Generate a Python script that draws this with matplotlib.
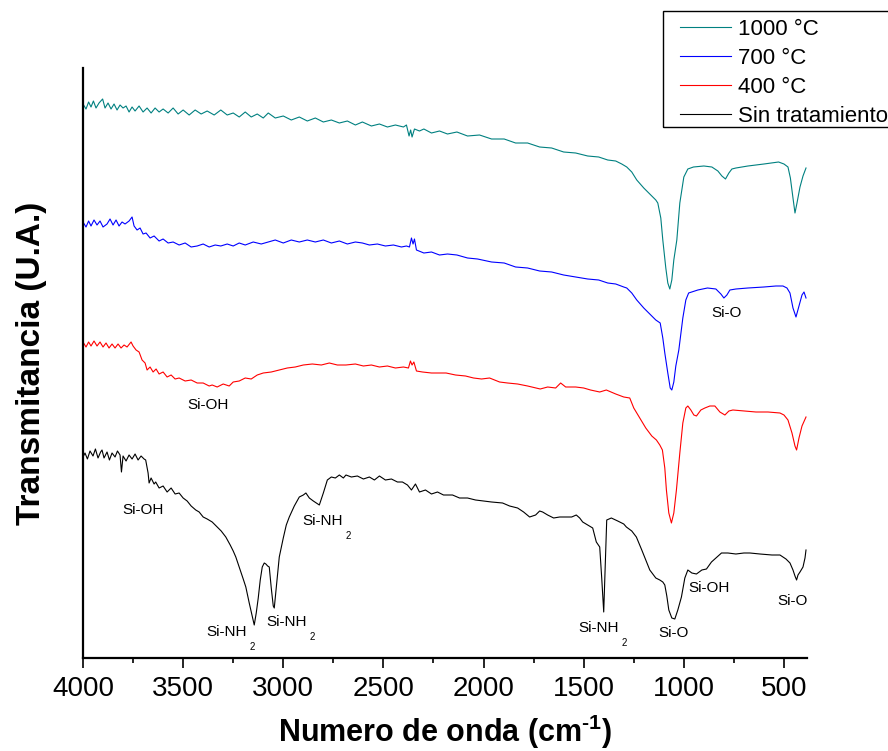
import matplotlib
matplotlib.use("Agg")
import matplotlib.pyplot as plt
from matplotlib.ticker import MultipleLocator
from matplotlib.patches import Rectangle

plt.rcParams['font.family'] = ['Liberation Sans', 'DejaVu Sans']
plt.rcParams['mathtext.fontset'] = 'custom'
plt.rcParams['mathtext.rm'] = 'Liberation Sans:bold'
plt.rcParams['mathtext.bf'] = 'Liberation Sans:bold'

# ---- data: (wavenumber cm-1, transmittance in arbitrary stacked units) ----
t1000 = [(3997,553),(3985,549),(3972,556),(3960,551),(3948,557),(3935,550),(3920,555),(3902,559),(3890,550),(3875,555),
         (3860,549),(3845,554),(3830,548),(3815,553),(3800,550),(3785,552),(3770,546),(3755,551),(3740,547),(3720,552),
         (3700,546),(3680,550),(3660,545),(3640,550),(3620,546),(3600,549),(3575,545),(3550,550),(3525,544),(3500,548),
         (3470,543),(3440,548),(3410,544),(3380,547),(3345,543),(3312,548),(3280,543),(3250,545),(3220,541),(3190,546),
         (3160,541),(3130,544),(3100,540),(3075,545),(3040,540),(3000,542),(2960,538),(2920,541),(2880,537),(2840,540),
         (2800,536),(2760,538),(2720,535),(2680,537),(2640,533),(2605,536),(2560,532),(2520,534),(2480,531),(2440,533),
         (2400,531),(2385,533),(2372,522),(2364,528),(2357,521),(2345,529),(2320,527),(2298,529),(2260,525),(2220,527),
         (2180,524),(2133,526),(2080,522),(2020,523),(1960,519),(1897,519),(1840,515),(1780,515),(1720,511),(1660,510),
         (1600,506),(1540,505),(1480,502),(1425,501),(1380,498),(1340,497),(1310,494),(1285,491),(1260,486),(1235,478),
         (1200,470),(1165,463),(1140,458),(1130,455),(1115,440),(1105,418),(1090,390),(1080,375),(1070,369),(1060,378),
         (1050,398),(1035,418),(1020,455),(1000,481),(980,489),(952,491),(900,492),(860,491),(830,487),(810,482),
         (792,479),(775,485),(760,489),(740,490),(680,492),(600,494),(527,496),(500,494),(480,491),(468,480),
         (455,460),(445,445),(435,455),(420,471),(405,482),(390,490)]

t700 = [(3997,435),(3985,431),(3972,437),(3960,432),(3945,438),(3930,433),(3915,437),(3900,431),(3880,434),(3865,439),
        (3850,433),(3835,438),(3820,432),(3805,436),(3790,434),(3770,437),(3755,441),(3745,432),(3730,428),(3715,430),
        (3700,424),(3685,425),(3665,420),(3645,422),(3620,417),(3600,419),(3575,415),(3550,416),(3520,413),(3490,415),
        (3460,411),(3430,412),(3400,414),(3370,411),(3340,413),(3312,412),(3280,414),(3250,412),(3220,415),(3190,413),
        (3150,416),(3110,414),(3075,416),(3040,418),(3000,415),(2960,418),(2920,416),(2880,418),(2840,416),(2800,418),
        (2760,415),(2720,417),(2680,414),(2640,416),(2605,415),(2570,413),(2530,414),(2490,412),(2450,413),(2410,411),
        (2385,412),(2370,411),(2360,420),(2352,414),(2345,419),(2335,408),(2298,405),(2260,406),(2220,403),(2180,404),
        (2133,403),(2080,400),(2030,399),(1960,396),(1897,395),(1840,391),(1780,390),(1720,387),(1660,386),(1600,383),
        (1540,381),(1480,379),(1425,378),(1380,375),(1340,374),(1300,371),(1285,370),(1260,365),(1235,358),(1200,350),
        (1165,343),(1140,338),(1118,335),(1105,320),(1095,305),(1080,285),(1068,270),(1060,268),(1050,276),(1040,292),
        (1025,308),(1005,340),(990,358),(976,365),(930,368),(882,370),(840,369),(815,364),(800,360),(785,363),
        (770,368),(740,369),(680,370),(600,371),(540,372),(505,372),(485,370),(470,365),(455,350),(440,341),
        (425,352),(410,363),(400,366),(390,360)]

t400 = [(3997,315),(3985,311),(3972,316),(3960,312),(3945,317),(3930,312),(3915,316),(3900,311),(3885,315),(3870,310),
        (3855,314),(3840,310),(3825,314),(3810,310),(3795,313),(3780,311),(3760,316),(3750,312),(3735,308),(3720,306),
        (3705,298),(3690,295),(3680,288),(3665,291),(3650,286),(3635,289),(3620,284),(3600,286),(3580,281),(3560,283),
        (3540,279),(3520,280),(3490,277),(3460,278),(3430,275),(3400,275),(3370,272),(3355,273),(3330,271),(3300,274),
        (3270,272),(3250,276),(3220,277),(3190,280),(3160,279),(3130,283),(3100,285),(3060,286),(3020,288),(2980,290),
        (2940,291),(2900,293),(2855,294),(2810,293),(2770,295),(2730,293),(2687,293),(2640,294),(2600,292),(2560,293),
        (2520,291),(2480,292),(2440,290),(2400,291),(2375,290),(2365,297),(2357,293),(2348,296),(2335,287),(2305,286),
        (2260,285),(2220,285),(2187,285),(2140,283),(2090,282),(2050,280),(2010,279),(1970,280),(1920,276),(1880,275),
        (1830,274),(1780,272),(1717,269),(1680,271),(1640,270),(1615,275),(1590,271),(1540,271),(1500,270),(1466,268),
        (1420,266),(1387,268),(1340,264),(1300,261),(1270,260),(1250,250),(1220,240),(1190,230),(1160,222),(1137,218),
        (1120,213),(1107,208),(1095,190),(1087,168),(1075,145),(1062,135),(1050,145),(1037,168),(1020,205),(1005,235),
        (990,250),(980,252),(965,248),(950,243),(937,242),(915,248),(895,250),(870,252),(845,252),(820,246),
        (795,243),(775,247),(755,248),(700,247),(640,246),(580,246),(520,245),(500,243),(480,238),(460,225),
        (445,212),(437,208),(425,220),(410,232),(390,241)]

t_sin = [(4000,201),(3990,205),(3978,199),(3965,207),(3950,202),(3938,209),(3925,200),(3912,206),(3905,208),(3895,200),
         (3880,206),(3868,198),(3855,205),(3840,201),(3828,207),(3815,203),(3808,186),(3800,202),(3785,197),(3770,203),
         (3755,199),(3740,204),(3725,198),(3710,202),(3695,199),(3687,198),(3675,185),(3670,175),(3660,180),(3645,174),
         (3637,176),(3620,170),(3600,172),(3580,166),(3560,170),(3540,164),(3520,165),(3500,160),(3480,157),(3460,152),
         (3437,148),(3420,146),(3400,141),(3380,139),(3355,136),(3330,131),(3310,127),(3287,121),(3265,113),(3250,107),
         (3237,101),(3215,88),(3200,79),(3187,71),(3170,55),(3155,42),(3145,33),(3135,45),(3125,60),(3115,78),
         (3105,91),(3095,95),(3087,94),(3078,92),(3070,91),(3060,70),(3050,52),(3045,50),(3035,70),(3025,90),
         (3020,101),(3000,120),(2985,133),(2970,141),(2945,152),(2920,161),(2900,163),(2887,165),(2870,160),(2850,157),
         (2835,155),(2820,153),(2800,165),(2780,178),(2760,181),(2740,180),(2720,183),(2700,180),(2687,183),(2660,181),
         (2630,182),(2600,179),(2570,181),(2545,178),(2520,182),(2490,178),(2460,179),(2430,176),(2405,176),(2380,173),
         (2360,168),(2340,174),(2320,166),(2290,168),(2260,164),(2230,166),(2200,163),(2155,163),(2120,160),(2080,160),
         (2040,158),(2000,157),(1960,156),(1905,155),(1870,152),(1830,150),(1800,146),(1770,141),(1740,143),(1720,147),
         (1705,146),(1680,143),(1650,140),(1620,141),(1590,141),(1560,141),(1537,143),(1520,140),(1505,136),(1480,133),
         (1455,130),(1437,116),(1420,111),(1410,80),(1400,46),(1393,90),(1385,138),(1362,140),(1330,137),(1300,134),
         (1287,131),(1260,127),(1237,121),(1210,108),(1190,98),(1170,88),(1140,80),(1120,78),(1105,76),(1095,73),
         (1085,62),(1075,48),(1060,40),(1045,39),(1030,48),(1012,61),(995,80),(980,88),(960,85),(937,84),
         (910,88),(887,89),(862,96),(840,100),(812,105),(780,105),(740,104),(700,105),(670,105),(620,104),
         (560,103),(520,103),(490,99),(470,95),(455,88),(445,82),(437,78),(430,83),(420,86),(405,91),
         (395,100),(390,108)]

series_labels = ["Sin tratamiento", "400 °C", "700 °C", "1000 °C"]
series_colors = ["#000000", "#FF0000", "#0000FF", "#008080"]

# annotations: (wavenumber, y, text, subscript)
annotations = [(3700, 148, "Si-OH", None),
               (3285, 26, "Si-NH", "2"),
               (2985, 36, "Si-NH", "2"),
               (2805, 137, "Si-NH", "2"),
               (1425, 30, "Si-NH", "2"),
               (1050, 25, "Si-O", None),
               (875, 70, "Si-OH", None),
               (455, 57, "Si-O", None),
               (3375, 253, "Si-OH", None),
               (785, 345, "Si-O", None)]

W, H = 888, 751
fig = plt.figure(figsize=(W/100, H/100), dpi=100)
ax = fig.add_axes([83/W, 1-658/H, (807-83)/W, (658-68)/H])

handles = []
for data, lab, col in zip([t_sin, t400, t700, t1000], series_labels, series_colors):
    xs = [p[0] for p in data]
    ys = [p[1] for p in data]
    h, = ax.plot(xs, ys, color=col, lw=0.8, label=lab)
    handles.append(h)

ax.set_xlim(4000, 385)
ax.set_ylim(0, 590)
ax.set_yticks([])
ax.xaxis.set_major_locator(MultipleLocator(500))
ax.xaxis.set_minor_locator(MultipleLocator(250))
ax.tick_params(axis='x', which='major', direction='out', length=7, width=1.2, labelsize=20, pad=6)
ax.tick_params(axis='x', which='minor', direction='out', length=3.5, width=1.2)
for s in ['top', 'right']:
    ax.spines[s].set_visible(False)
for s in ['left', 'bottom']:
    ax.spines[s].set_linewidth(1.6)

ax.set_xlabel(r"Numero de onda (cm$^{\text{-1}}$)", fontsize=22, fontweight='bold', labelpad=8)
ax.set_ylabel("Transmitancia (U.A.)", fontsize=24, fontweight='bold', labelpad=26)

for wn, yv, txt, sub in annotations:
    t = ax.text(wn, yv, txt, fontsize=11, ha='center', va='center')
    if sub:
        ax.annotate(sub, xy=(1, 0), xycoords=t, xytext=(2, -2), textcoords='offset points',
                    fontsize=7, ha='left', va='top')

# legend box (extends past the right edge of the figure, as in the reference)
fig.add_artist(Rectangle((663/W, 1-127/H), (892-663)/W, 116/H, transform=fig.transFigure,
                         fill=False, edgecolor='black', lw=1.0, clip_on=False))
leg = fig.legend(handles[::-1], series_labels[::-1], loc='upper left',
                 bbox_to_anchor=(680/W, 1-19/H), bbox_transform=fig.transFigure,
                 fontsize=16, frameon=False, borderaxespad=0, borderpad=0,
                 handlelength=2.3, handletextpad=0.3, labelspacing=0.36)

fig.savefig("out.png", dpi=100)
